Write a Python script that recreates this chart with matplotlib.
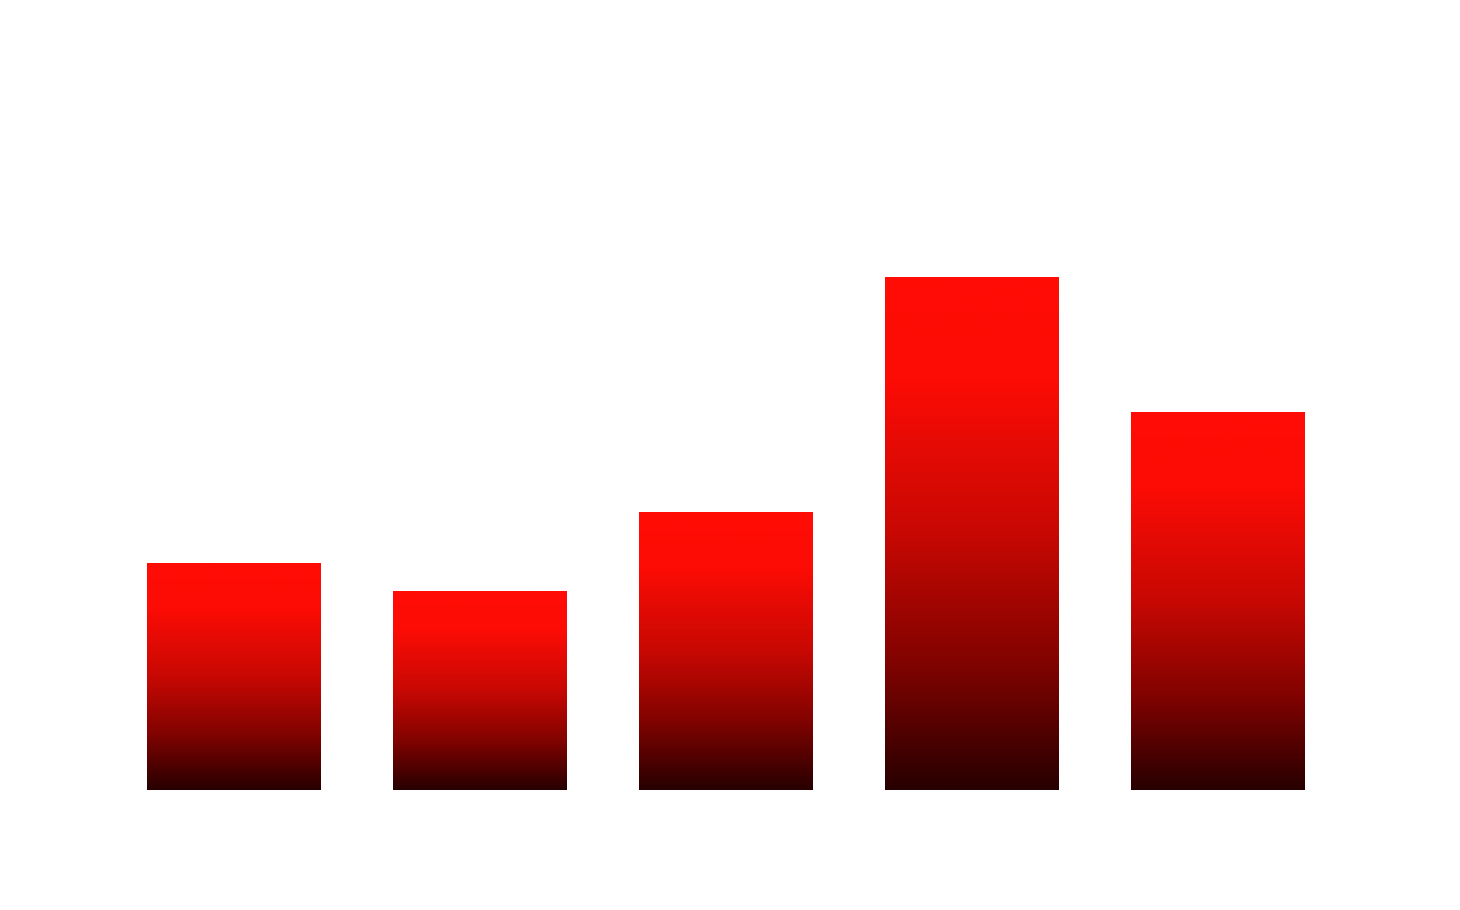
import numpy as np
import matplotlib
matplotlib.use("Agg")
import matplotlib.pyplot as plt
from matplotlib.colors import LinearSegmentedColormap
from matplotlib.patches import Rectangle

categories = ["A", "B", "C", "D", "E"]
values = [44.2, 38.8, 54.1, 100, 73.7]

fig = plt.figure(figsize=(14.6, 9.1), dpi=100)
ax = fig.add_axes([0, 0, 1, 1])
ax.set_axis_off()

# gradient: 0 = bar bottom, 1 = bar top
cmap = LinearSegmentedColormap.from_list(
    "redgrad",
    [(0.0, (40/255, 0, 0)),
     (0.25, (130/255, 3/255, 0)),
     (0.5, (200/255, 8/255, 3/255)),
     (0.8, (252/255, 12/255, 5/255)),
     (1.0, (255/255, 13/255, 5/255))])

x = np.arange(len(categories))
width = 174 / 246
bars = ax.bar(x, values, width=width, color="none", edgecolor="none")
grad = np.linspace(0, 1, 256).reshape(-1, 1)
for b in bars:
    x0, y0 = b.get_x(), b.get_y()
    w, h = b.get_width(), b.get_height()
    im = ax.imshow(grad, cmap=cmap, aspect="auto", origin="lower",
                   extent=[x0, x0 + w, y0, y0 + h], interpolation="bilinear")
    clip = Rectangle((x0, y0), w, h, transform=ax.transData)
    im.set_clip_path(clip)

# pixel mapping: center of first bar at 234 px, spacing 246 px; baseline at 790 px, 100 -> 513 px
ax.set_xlim(-234 / 246, (1460 - 234) / 246)
ax.set_ylim(-120 / 5.13, 790 / 5.13)

fig.savefig("out.png", dpi=100, facecolor="white")
